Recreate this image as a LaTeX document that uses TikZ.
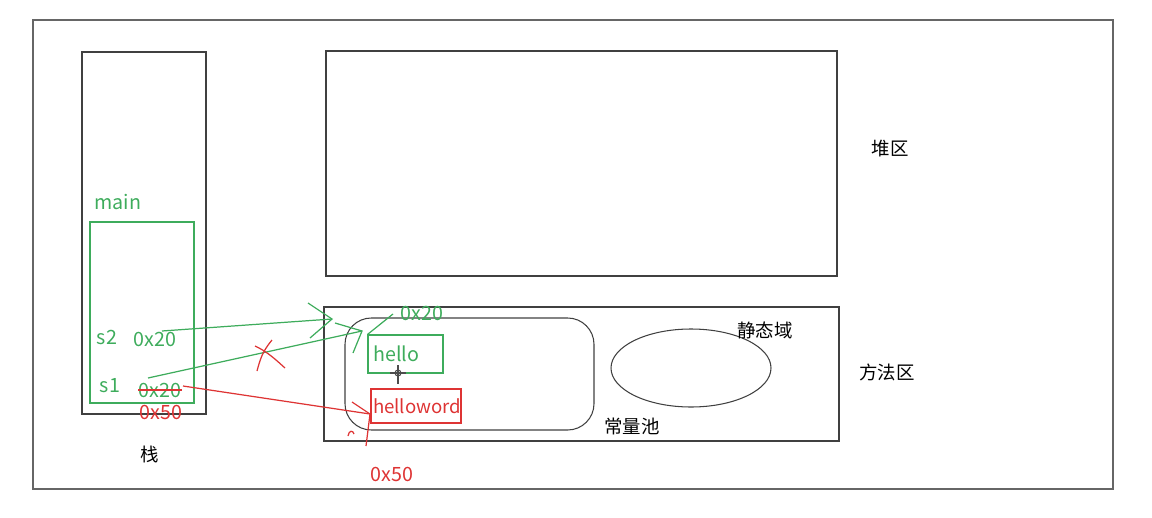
\documentclass[tikz,border=0pt]{standalone}
\usepackage{fontspec}
\setmainfont{Noto Sans CJK SC}
\definecolor{grn}{RGB}{62,172,92}
\definecolor{rd}{RGB}{222,52,52}
\begin{document}
\begin{tikzpicture}[x=0.02cm,y=-0.02cm,
  frame/.style={draw=black!75,line width=0.6pt},
  gline/.style={draw=grn,line width=0.7pt},
  rline/.style={draw=rd,line width=0.7pt},
  txt/.style={inner sep=0pt,font=\fontsize{10.5}{12}\selectfont},
  gtxt/.style={txt,text=grn,font=\fontsize{11.2}{13}\selectfont},
  rtxt/.style={txt,text=rd,font=\fontsize{11.2}{13}\selectfont}]
\useasboundingbox (0,0) rectangle (1152,517);
%areas
\draw[frame,draw=black!60] (33,20) rectangle (1113,489);
\draw[frame] (82,52) rectangle (206,414);
\draw[frame] (326,51) rectangle (837,276);
\draw[frame] (324,307) rectangle (839,441);
\draw[frame,rounded corners=15] (345,318) rectangle (594,430);
\draw[frame] (691,368) ellipse (80 and 39);
\node[txt] (stack) at (150,454) {栈};
\node[txt] (heap) at (890,149) {堆区};
\node[txt] (method) at (887,372) {方法区};
\node[txt] (static) at (765,330) {静态域};
\node[txt] (pool) at (632,426) {常量池};
%main frame
\draw[gline] (90,222) rectangle (194,403);
\node[gtxt] (main) at (118,202) {main};
\node[gtxt] (s2) at (107,337) {s2};
\node[gtxt] (s2addr) at (155,339) {0x20};
\node[gtxt] (s1) at (110,386) {s1};
\node[gtxt] (s1addr) at (160,390) {0x20};
\draw[rline] (s1addr.west) -- (s1addr.east);
\node[rtxt] (s1new) at (161,412) {0x50};
%constant pool
\node[gtxt,draw=grn,line width=0.6pt,minimum width=75*0.02cm,minimum height=38*0.02cm,
  inner xsep=3pt,text width=64*0.02cm,align=left] (hello) at (405.5,354) {hello};
\node[rtxt,draw=rd,line width=0.6pt,minimum width=90*0.02cm,minimum height=34*0.02cm,
  inner xsep=1pt,text width=86*0.02cm,align=left,font=\fontsize{10.6}{12}\selectfont]
  (helloword) at (416,406) {helloword};
\node[gtxt] (helloaddr) at (422,313) {0x20};
\node[rtxt] (hwaddr) at (392,474) {0x50};
%hand drawn pointers
\coordinate (tipA) at (332,319);
\coordinate (tipB) at (362,331);
\coordinate (tipC) at (370,414);
\draw[gline] (162,331) -- (tipA);
\draw[gline] (308,303) -- (tipA) -- (310,338);
\draw[gline] (148,378) -- (tipB);
\draw[gline] (335,323) -- (tipB) -- (353,353);
\draw[gline] (393,314) -- (hello.north west);
\draw[rline] (183,386) -- (tipC);
\draw[rline] (352,402) -- (tipC) -- (366,446);
\draw[rline] (255,346) .. controls (268,352) and (276,360) .. (285,368);
\draw[rline] (272,340) .. controls (262,352) and (260,360) .. (257,371);
\draw[rline] (348,436) .. controls (349,430) and (353,430) .. (354,434);
%cursor
\draw[black!70,line width=0.6pt] (398,373) circle (3);
\draw[black!70,line width=0.6pt] (390,373) -- (406,373) (398,365) -- (398,384);
\end{tikzpicture}
\end{document}
